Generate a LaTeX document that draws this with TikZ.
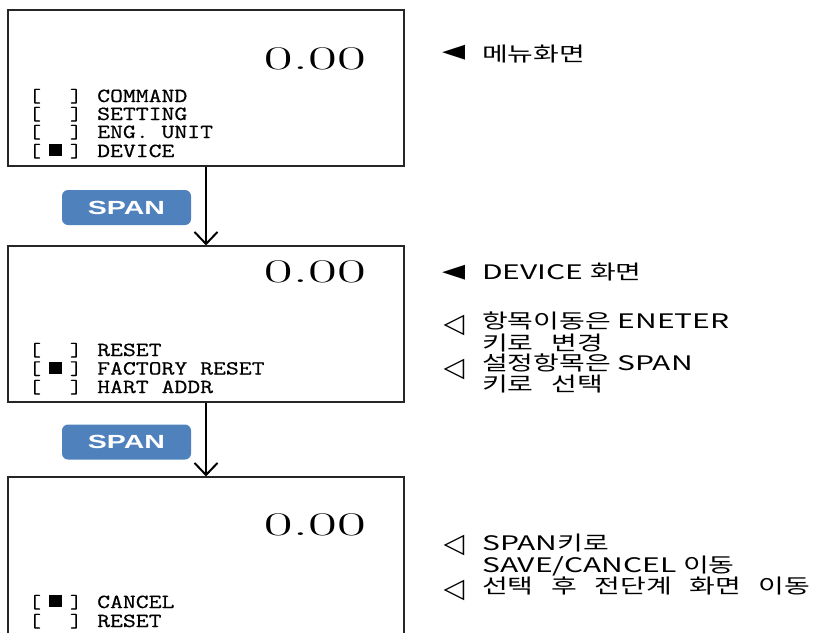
\documentclass[tikz,border=0pt]{standalone}
\usepackage{fontspec}
\usepackage{tikz}
\usetikzlibrary{arrows.meta,positioning}
\newfontfamily\lcdfont{Latin Modern Mono}[FakeStretch=1.25,FakeBold=0.6]
\newfontfamily\digitfont{Latin Modern Roman}[FakeStretch=1.9]
\newfontfamily\keyfont{Liberation Sans}[FakeStretch=1.5]
\newfontfamily\krfont{Noto Sans CJK KR}[FakeStretch=1.4,WordSpace=2.8]
\newfontfamily\enfont{Noto Sans CJK KR}[FakeStretch=1.5]
\newfontfamily\symfont{DejaVu Sans}
\definecolor{spanblue}{HTML}{4F81BD}
\newcommand{\en}[1]{{\enfont #1}}

\begin{document}
\begin{tikzpicture}[x=1pt,y=-1pt]
        \tikzset{
          screen/.style={draw=black!85,line width=1.2pt,minimum width=396pt,inner sep=0pt},
          lcd/.style={font=\lcdfont\fontsize{20}{20}\selectfont,inner sep=0pt,anchor=base west},
          bracket/.style={font=\lcdfont\fontsize{19}{19}\selectfont,inner sep=0pt},
          value/.style={font=\digitfont\fontsize{33}{33}\selectfont,inner sep=0pt,anchor=base east},
          spankey/.style={fill=spanblue,rounded corners=6pt,minimum width=129pt,minimum height=35pt,
            text=white,font=\keyfont\bfseries\fontsize{19}{19}\selectfont,inner sep=0pt},
          flow/.style={line width=2pt,-{Straight Barb[length=12pt,width=23pt,line width=2pt]}},
          note/.style={font=\krfont\fontsize{20}{20}\selectfont,inner sep=0pt,anchor=base west},
          filledptr/.style={font=\symfont\fontsize{30}{30}\selectfont,inner sep=0pt},
          openptr/.style={font=\symfont\fontsize{27}{27}\selectfont,inner sep=0pt}
        }
        \useasboundingbox (0,0) rectangle (818,632);
        \clip (0,0) rectangle (818,632);
        % screens
        \node[screen,minimum height=156pt] (menu) at (206,88) {};
        \node[screen,minimum height=156pt] (device) at (206,324) {};
        \node[screen,minimum height=180pt] (save) at (206,567) {};
        \node[value] (v1) at (366,69) {0.00};
        \node[value] (v2) at (366,282) {0.00};
        \node[value] (v3) at (366,535) {0.00};
        % menu lines
        \foreach \y/\item [count=\i] in {102/COMMAND,120/SETTING,138/{ENG. UNIT},157/DEVICE,
                                         356/RESET,374.5/{FACTORY RESET},393/{HART ADDR},
                                         608/CANCEL,627/RESET}
        {
          \node[bracket,anchor=base] (l\i) at (35,\y) {[};
          \node[bracket,anchor=base] (r\i) at (76,\y) {]};
          \node[lcd] (t\i) at (97,\y) {\item};
        }
        \foreach \y in {157,374.5,608}
          \fill (48.5,\y-13) rectangle (61.5,\y-1);
        % keys and arrows
        \node[spankey] (k1) at (126.5,207.5) {SPAN};
        \node[spankey] (k2) at (126.5,442) {SPAN};
        \draw[flow] (menu.south) -- (device.north);
        \draw[flow] (device.south) -- (save.north);
        % notes
        \node[filledptr] (a1) at (454,53) {◄};
        \node[note] (n1) at (482,61) {메뉴화면};
        \node[filledptr] (a2) at (454,273) {◄};
        \node[note] (n2) at (482,279) {\en{DEVICE }화면};
        \node[openptr] (a3) at (454,325) {◁};
        \node[note] (n3) at (482,328) {항목이동은\en{ ENETER}};
        \node[note] (n4) at (482,350) {키로 변경};
        \node[openptr] (a4) at (454,369) {◁};
        \node[note] (n5) at (482,370) {설정항목은\en{ SPAN}};
        \node[note] (n6) at (482,391) {키로 선택};
        \node[openptr] (a5) at (454,545) {◁};
        \node[note] (n7) at (482,550) {\en{SPAN}키로};
        \node[note] (n8) at (482,572) {\en{SAVE/CANCEL }이동};
        \node[openptr] (a6) at (454,590) {◁};
        \node[note] (n9) at (482,593) {선택 후 전단계 화면 이동};
    \end{tikzpicture}
\end{document}
